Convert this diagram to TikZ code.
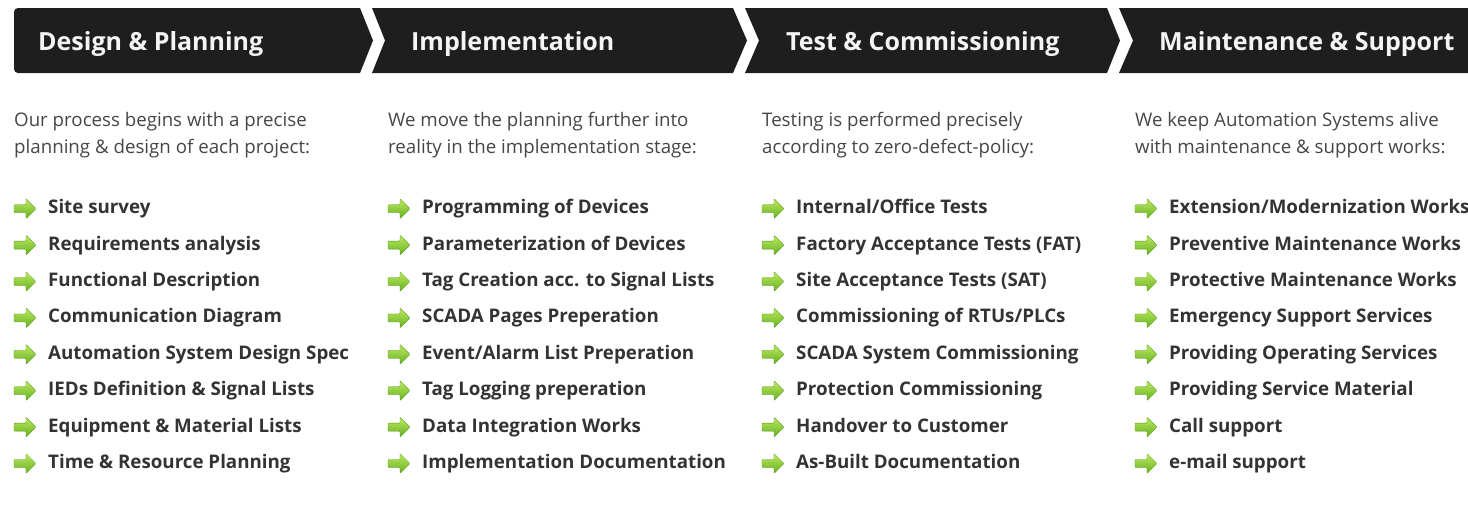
\documentclass[tikz,border=0pt]{standalone}
\usepackage{fontspec}
\setmainfont{Open Sans}
\usepackage{tikz}
\usetikzlibrary{positioning}
\definecolor{barBlack}{RGB}{30, 30, 30}
\definecolor{headWhite}{RGB}{242, 244, 246}
\definecolor{bodyGray}{RGB}{70, 70, 70}
\definecolor{itemGray}{RGB}{51, 51, 51}
\definecolor{arrowLight}{RGB}{190, 234, 96}
\definecolor{arrowDark}{RGB}{100, 176, 32}

\begin{document}
\begin{tikzpicture}[x=1pt, y=-1pt,
    node distance=17pt,
    stage/.style={fill=barBlack},
    headtext/.style={anchor=base west, inner sep=0pt, text=headWhite, font=\fontsize{25}{29}\selectfont\bfseries},
    intro/.style={anchor=north west, inner sep=0pt, align=left, text=bodyGray, font=\fontsize{18.7}{27}\selectfont},
    item/.style={anchor=north west, inner sep=0pt, text height=14.5pt, text depth=4.5pt, text=itemGray, font=\fontsize{18.75}{22}\selectfont\bfseries,
      execute at begin node={\hspace*{34pt}}},
    bullet/.style={top color=arrowLight, bottom color=arrowDark, draw=arrowDark!85!black, line width=0.3pt, rounded corners=0.8pt}
  ]
    \useasboundingbox (0,0) rectangle (1468,507);

    \fill[stage] (373,40.5) -- (360,73) [rounded corners=4pt] -- (14,73) -- (14,8) [sharp corners] -- (360,8) -- cycle;
    \fill[stage] (372,8) -- (733,8) -- (747,40.5) -- (733,73) -- (372,73) -- (385,40.5) -- cycle;
    \fill[stage] (745,8) -- (1107,8) -- (1120,40.5) -- (1107,73) -- (745,73) -- (759,40.5) -- cycle;
    \fill[stage] (1119,8) -- (1468,8) -- (1468,73) -- (1119,73) -- (1133,40.5) -- cycle;

    \node[headtext] (head1) at (38,50.5) {Design \& Planning};
    \node[headtext] (head2) at (411,50.5) {Implementation};
    \node[headtext] (head3) at (786,50.5) {Test \& Commissioning};
    \node[headtext] (head4) at (1159,50.5) {Maintenance \& Support};

    \node[intro] (intro1) at (14,112) {Our process begins with a precise\\planning \& design of each project:};
    \node[intro] (intro2) at (388,112) {We move the planning further into\\reality in the implementation stage:};
    \node[intro] (intro3) at (762,112) {Testing is performed precisely\\according to zero-defect-policy:};
    \node[intro] (intro4) at (1135,112) {We keep Automation Systems alive\\with maintenance \& support works:};

    \node[item] (p1) at (14,199) {Site survey};
    \node[item, below=of p1.south west, anchor=north west] (p2) {Requirements analysis};
    \node[item, below=of p2.south west, anchor=north west] (p3) {Functional Description};
    \node[item, below=of p3.south west, anchor=north west] (p4) {Communication Diagram};
    \node[item, below=of p4.south west, anchor=north west] (p5) {Automation System Design Spec};
    \node[item, below=of p5.south west, anchor=north west] (p6) {IEDs Definition \& Signal Lists};
    \node[item, below=of p6.south west, anchor=north west] (p7) {Equipment \& Material Lists};
    \node[item, below=of p7.south west, anchor=north west] (p8) {Time \& Resource Planning};

    \node[item] (i1) at (388,199) {Programming of Devices};
    \node[item, below=of i1.south west, anchor=north west] (i2) {Parameterization of Devices};
    \node[item, below=of i2.south west, anchor=north west] (i3) {Tag Creation acc. to Signal Lists};
    \node[item, below=of i3.south west, anchor=north west] (i4) {SCADA Pages Preperation};
    \node[item, below=of i4.south west, anchor=north west] (i5) {Event/Alarm List Preperation};
    \node[item, below=of i5.south west, anchor=north west] (i6) {Tag Logging preperation};
    \node[item, below=of i6.south west, anchor=north west] (i7) {Data Integration Works};
    \node[item, below=of i7.south west, anchor=north west] (i8) {Implementation Documentation};

    \node[item] (t1) at (762,199) {Internal/Office Tests};
    \node[item, below=of t1.south west, anchor=north west] (t2) {Factory Acceptance Tests (FAT)};
    \node[item, below=of t2.south west, anchor=north west] (t3) {Site Acceptance Tests (SAT)};
    \node[item, below=of t3.south west, anchor=north west] (t4) {Commissioning of RTUs/PLCs};
    \node[item, below=of t4.south west, anchor=north west] (t5) {SCADA System Commissioning};
    \node[item, below=of t5.south west, anchor=north west] (t6) {Protection Commissioning};
    \node[item, below=of t6.south west, anchor=north west] (t7) {Handover to Customer};
    \node[item, below=of t7.south west, anchor=north west] (t8) {As-Built Documentation};

    \node[item] (s1) at (1135,199) {Extension/Modernization Works};
    \node[item, below=of s1.south west, anchor=north west] (s2) {Preventive Maintenance Works};
    \node[item, below=of s2.south west, anchor=north west] (s3) {Protective Maintenance Works};
    \node[item, below=of s3.south west, anchor=north west] (s4) {Emergency Support Services};
    \node[item, below=of s4.south west, anchor=north west] (s5) {Providing Operating Services};
    \node[item, below=of s5.south west, anchor=north west] (s6) {Providing Service Material};
    \node[item, below=of s6.south west, anchor=north west] (s7) {Call support};
    \node[item, below=of s7.south west, anchor=north west] (s8) {e-mail support};

    \foreach \n in {p1,p2,p3,p4,p5,p6,p7,p8,i1,i2,i3,i4,i5,i6,i7,i8,t1,t2,t3,t4,t5,t6,t7,t8,s1,s2,s3,s4,s5,s6,s7,s8}
      \shade[bullet, shift={(\n.west)}] (0,-4) -- (12,-4) -- (12,-10) -- (22,0) -- (12,10) -- (12,4) -- (0,4) -- cycle;
\end{tikzpicture}
\end{document}
